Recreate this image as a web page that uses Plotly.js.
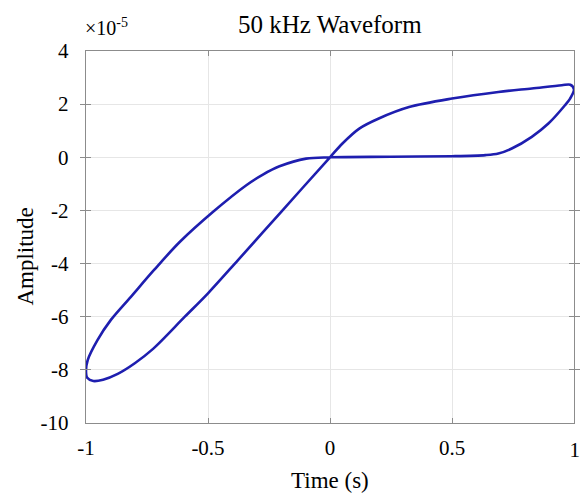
<!DOCTYPE html>
<html>
<head>
<meta charset="utf-8">
<script src="https://cdn.plot.ly/plotly-3.0.1.min.js"></script>
<style>html,body{margin:0;padding:0;background:#fff}#chart{width:580px;height:497px}</style>
</head>
<body>
<div id="chart"></div>
<script>
// Loop trace (time in s, amplitude in units of 1e-5)
var timeVals = [0, 0.051, 0.12, 0.2, 0.324, 0.5, 0.69, 0.827, 0.95, 0.985, 1.0, 0.984, 0.963, 0.895, 0.827, 0.745, 0.69, 0.637, 0.5, 0.25, 0,
  -0.098, -0.207, -0.275, -0.343, -0.479, -0.615, -0.721, -0.816, -0.898, -0.953, -0.993, -1.0, -0.995, -0.97, -0.93, -0.87, -0.8, -0.724, -0.595, -0.5, -0.377, -0.2, 0];
var ampVals = [0, 0.52, 1.08, 1.46, 1.89, 2.21, 2.46, 2.59, 2.71, 2.73, 2.55, 2.21, 1.96, 1.27, 0.77, 0.33, 0.14, 0.08, 0.04, 0.02, 0,
  -0.05, -0.34, -0.65, -1.05, -2.05, -3.18, -4.24, -5.25, -6.12, -6.88, -7.63, -8.05, -8.3, -8.42, -8.37, -8.15, -7.75, -7.2, -6.0, -5.12, -3.87, -2.05, 0];
var xTickVals = [-1, -0.5, 0, 0.5, 1];
var xTickText = ['-1', '-0.5', '0', '0.5', '1'];
var yTickVals = [-10, -8, -6, -4, -2, 0, 2, 4];
var yTickText = ['-10', '-8', '-6', '-4', '-2', '0', '2', '4'];

var font = 'Liberation Serif, Times New Roman, serif';
var trace = {
  x: timeVals, y: ampVals, type: 'scatter', mode: 'lines',
  line: {color: 'rgb(30,30,175)', width: 2.6, shape: 'spline', smoothing: 0.9},
  hoverinfo: 'skip'
};
var axisCommon = {
  showline: true, linecolor: '#8c8c8c', linewidth: 1.2, mirror: 'allticks',
  ticks: 'inside', ticklen: 5, tickcolor: '#8c8c8c', tickwidth: 1,
  showgrid: true, gridcolor: '#e6e6e6', gridwidth: 1, zeroline: false,
  tickfont: {family: font, size: 21, color: '#000'}, tickmode: 'array',
  ticklabeloverflow: 'allow'
};
var layout = {
  width: 580, height: 497,
  margin: {l: 85.5, r: 6, t: 50.7, b: 73.7},
  paper_bgcolor: '#fff', plot_bgcolor: '#fff',
  showlegend: false,
  xaxis: Object.assign({}, axisCommon, {
    range: [-1, 1], tickvals: xTickVals.slice(0, 4), ticktext: xTickText.slice(0, 4), ticklabelstandoff: 6
  }),
  // separate axis carrying the right-end tick label so it stays inside the page
  xaxis2: Object.assign({}, axisCommon, {
    range: [-1, 1], overlaying: 'x', anchor: 'y', side: 'bottom', showgrid: false, showline: false, ticks: '',
    tickvals: xTickVals.slice(4), ticktext: xTickText.slice(4), ticklabelposition: 'outside left',
    ticklabelstandoff: 12, ticklabelshift: 6
  }),
  yaxis: Object.assign({}, axisCommon, {
    range: [-10, 4], tickvals: yTickVals, ticktext: yTickText, ticklabelstandoff: 12
  }),
  annotations: [
    {text: '50 kHz Waveform', xref: 'paper', yref: 'paper', x: 0.5, y: 1, xanchor: 'center', yanchor: 'middle', yshift: 26.5,
     showarrow: false, font: {family: font, size: 25, color: '#000'}},
    {text: '×10<sup>-5</sup>', xref: 'paper', yref: 'paper', x: 0, y: 1, xanchor: 'left', yanchor: 'bottom', xshift: -3, yshift: 10,
     showarrow: false, font: {family: font, size: 20, color: '#000'}},
    {text: 'Amplitude', xref: 'paper', yref: 'paper', x: 0, y: 0.446, xanchor: 'center', yanchor: 'middle', xshift: -60.5, textangle: -90,
     showarrow: false, font: {family: font, size: 23, color: '#000'}},
    {text: 'Time (s)', xref: 'paper', yref: 'paper', x: 0.5, y: 0, xanchor: 'center', yanchor: 'middle', yshift: -57.7,
     showarrow: false, font: {family: font, size: 23, color: '#000'}}
  ]
};
var helper = {x: [xTickVals[4]], y: [yTickVals[0]], xaxis: 'x2', yaxis: 'y', type: 'scatter', mode: 'markers',
  marker: {opacity: 0}, hoverinfo: 'skip'};
Plotly.newPlot('chart', [trace, helper], layout, {displayModeBar: false, staticPlot: true});
</script>
</body>
</html>
